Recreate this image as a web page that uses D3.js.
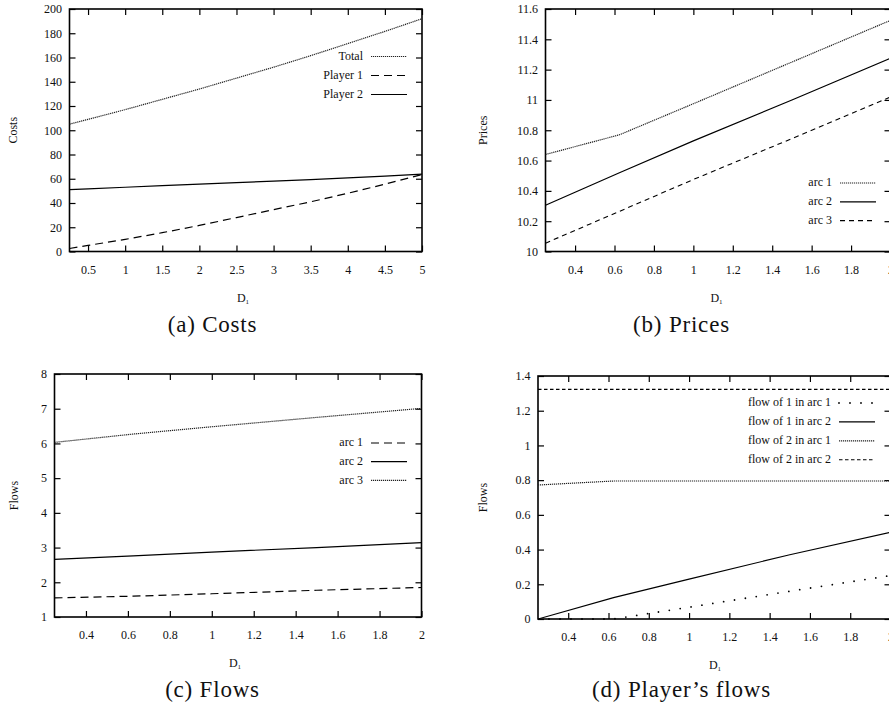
<!DOCTYPE html>
<html>
<head>
<meta charset="utf-8">
<script src="https://cdn.jsdelivr.net/npm/d3@7"></script>
<style>
  body { margin: 0; background: #fff; }
  svg text { font-family: "Liberation Serif", "Times New Roman", serif; fill: #111; }
</style>
</head>
<body>
<script>
// (a) Costs
var costX       = [0.25, 0.5, 1, 1.5, 2, 2.5, 3, 3.5, 4, 4.5, 5];
var costTotal   = [105, 109, 117, 125.5, 134, 143, 152, 161.5, 171.5, 181.5, 192];
var costPlayer1 = [2.5, 5, 10, 15.5, 21.5, 28, 34.5, 41, 48, 55.5, 63.5];
var costPlayer2 = [51, 51.7, 53, 54.3, 55.5, 56.8, 58, 59.3, 60.7, 62.2, 63.8];
var costXTicks  = [0.5, 1, 1.5, 2, 2.5, 3, 3.5, 4, 4.5, 5];
var costYTicks  = [0, 20, 40, 60, 80, 100, 120, 140, 160, 180, 200];

// (b) Prices
var priceX    = [0.25, 0.625, 1, 1.5, 2];
var priceArc1 = [10.64, 10.77, 10.975, 11.25, 11.525];
var priceArc2 = [10.305, 10.52, 10.73, 11.0, 11.275];
var priceArc3 = [10.055, 10.265, 10.475, 10.745, 11.02];
var priceYTicks = [10, 10.2, 10.4, 10.6, 10.8, 11, 11.2, 11.4, 11.6];

// (c) Flows
var flowX    = [0.25, 0.625, 1, 1.5, 2];
var flowArc1 = [1.55, 1.6, 1.67, 1.77, 1.85];
var flowArc2 = [2.66, 2.76, 2.87, 3.0, 3.14];
var flowArc3 = [6.03, 6.27, 6.48, 6.75, 7.01];
var flowYTicks = [1, 2, 3, 4, 5, 6, 7, 8];

// (d) Player's flows
var pfX      = [0.25, 0.625, 1, 1.5, 2];
var pf1Arc1  = [0, 0, 0.068, 0.16, 0.25];
var pf1Arc2  = [0, 0.123, 0.23, 0.37, 0.5];
var pf2Arc1  = [0.772, 0.795, 0.795, 0.795, 0.795];
var pf2Arc2  = [1.323, 1.323, 1.323, 1.323, 1.323];
var pfYTicks = [0, 0.2, 0.4, 0.6, 0.8, 1, 1.2, 1.4];

var dXTicks = [0.4, 0.6, 0.8, 1, 1.2, 1.4, 1.6, 1.8, 2];

var W = 889, H = 709;
var svg = d3.select("body").append("svg").attr("width", W).attr("height", H);

var styles = {
  dotted: {dash: "1.2,0.8", width: 1.2, color: "#222", cap: "butt"},
  solid:  {dash: null, width: 1.2, color: "#000", cap: "butt"},
  dashedLong: {dash: "8,5", width: 1.2, color: "#000", cap: "butt"},
  dashed: {dash: "5,4", width: 1.1, color: "#000", cap: "butt"},
  dashedShort: {dash: "3.5,2.5", width: 1.1, color: "#000", cap: "butt"},
  dots:   {dash: "0,11", width: 1.8, color: "#000", cap: "round"}
};

var panels = [
  {box: {l: 69.5, r: 422, t: 9, b: 251.5}, xDom: [0.25, 5], yDom: [0, 200],
   xTicks: costXTicks, yTicks: costYTicks, x: costX, yLabel: "Costs", caption: "(a) Costs",
   yLabelX: 13, xLabelX: 243, capX: 212.5, capY: 332,
   series: [
     {name: "Total", values: costTotal, style: "dotted"},
     {name: "Player 1", values: costPlayer1, style: "dashedLong"},
     {name: "Player 2", values: costPlayer2, style: "solid"}],
   legend: {x: 363, y: 56, dy: 19}},
  {box: {l: 545.5, r: 890.5, t: 9, b: 251.5}, xDom: [0.25, 2], yDom: [10, 11.6],
   xTicks: dXTicks, yTicks: priceYTicks, x: priceX, yLabel: "Prices", caption: "(b) Prices",
   yLabelX: 483, xLabelX: 716.5, capX: 681.5, capY: 332,
   series: [
     {name: "arc 1", values: priceArc1, style: "dotted"},
     {name: "arc 2", values: priceArc2, style: "solid"},
     {name: "arc 3", values: priceArc3, style: "dashed"}],
   legend: {x: 832, y: 182.5, dy: 18.8}},
  {box: {l: 54.5, r: 421.5, t: 374, b: 617}, xDom: [0.25, 2], yDom: [1, 8],
   xTicks: dXTicks, yTicks: flowYTicks, x: flowX, yLabel: "Flows", caption: "(c) Flows",
   yLabelX: 13.5, xLabelX: 235, capX: 212.5, capY: 697,
   series: [
     {name: "arc 1", values: flowArc1, style: "dashedLong"},
     {name: "arc 2", values: flowArc2, style: "solid"},
     {name: "arc 3", values: flowArc3, style: "dotted"}],
   legend: {x: 363, y: 442.5, dy: 18.7}},
  {box: {l: 538, r: 890.5, t: 376, b: 619}, xDom: [0.25, 2], yDom: [0, 1.4],
   xTicks: dXTicks, yTicks: pfYTicks, x: pfX, yLabel: "Flows", caption: "(d) Player\u2019s flows",
   yLabelX: 483, xLabelX: 715, capX: 681.5, capY: 697,
   series: [
     {name: "flow of 1 in arc 1", values: pf1Arc1, style: "dots"},
     {name: "flow of 1 in arc 2", values: pf1Arc2, style: "solid"},
     {name: "flow of 2 in arc 1", values: pf2Arc1, style: "dotted"},
     {name: "flow of 2 in arc 2", values: pf2Arc2, style: "dashedShort"}],
   legend: {x: 831, y: 402.5, dy: 18.9}}
];

function applyStyle(sel, st) {
  sel.attr("fill", "none")
     .attr("stroke", st.color)
     .attr("stroke-width", st.width)
     .attr("stroke-linecap", st.cap);
  if (st.dash) sel.attr("stroke-dasharray", st.dash);
}

panels.forEach(function(p, pi) {
  var b = p.box;
  var x = d3.scaleLinear().domain(p.xDom).range([b.l, b.r]);
  var y = d3.scaleLinear().domain(p.yDom).range([b.b, b.t]);
  var g = svg.append("g");

  var clip = "clip" + pi;
  g.append("clipPath").attr("id", clip).append("rect")
    .attr("x", b.l).attr("y", b.t - 1).attr("width", b.r - b.l).attr("height", b.b - b.t + 2);

  // axes with inward ticks, mirrored on top/right
  var fmt = function(d) { return String(+d.toFixed(2)); };
  var ax = g.append("g").attr("transform", "translate(0," + b.b + ")")
    .call(d3.axisBottom(x).tickValues(p.xTicks).tickFormat(fmt).tickSizeInner(-6).tickSizeOuter(0).tickPadding(13.5));
  var ay = g.append("g").attr("transform", "translate(" + b.l + ",0)")
    .call(d3.axisLeft(y).tickValues(p.yTicks).tickFormat(fmt).tickSizeInner(-6).tickSizeOuter(0).tickPadding(7.5));
  var at = g.append("g").attr("transform", "translate(0," + b.t + ")")
    .call(d3.axisTop(x).tickValues(p.xTicks).tickFormat("").tickSizeInner(-6).tickSizeOuter(0));
  var ar = g.append("g").attr("transform", "translate(" + b.r + ",0)")
    .call(d3.axisRight(y).tickValues(p.yTicks).tickFormat("").tickSizeInner(-6).tickSizeOuter(0));
  [ax, ay, at, ar].forEach(function(a) {
    a.attr("font-family", null);
    a.select(".domain").remove();
    a.selectAll("line").attr("stroke", "#000").attr("stroke-width", 1.2);
    a.selectAll("text").attr("font-size", 12).attr("fill", "#111");
  });

  // border
  g.append("rect").attr("x", b.l).attr("y", b.t)
    .attr("width", b.r - b.l).attr("height", b.b - b.t)
    .attr("fill", "none").attr("stroke", "#000").attr("stroke-width", 1.6);

  // series
  var line = d3.line().x(function(d) { return x(d[0]); }).y(function(d) { return y(d[1]); });
  p.series.forEach(function(s, i) {
    var pts = p.x.map(function(v, k) { return [v, s.values[k]]; });
    var path = g.append("path").attr("d", line(pts)).attr("clip-path", "url(#" + clip + ")");
    applyStyle(path, styles[s.style]);

    // legend entry
    var ly = p.legend.y + i * p.legend.dy;
    g.append("text").attr("x", p.legend.x).attr("y", ly).attr("dy", "0.33em")
      .attr("text-anchor", "end").attr("font-size", 12).text(s.name);
    var ll = g.append("line").attr("x1", p.legend.x + 8).attr("x2", p.legend.x + 44)
      .attr("y1", ly + 0.5).attr("y2", ly + 0.5);
    applyStyle(ll, styles[s.style]);
  });

  // axis labels
  var cy = (b.t + b.b) / 2;
  var xl = g.append("text").attr("x", p.xLabelX).attr("y", b.b + 50)
    .attr("text-anchor", "middle").attr("font-size", 12);
  xl.append("tspan").text("D");
  xl.append("tspan").attr("font-size", 7).attr("dy", 2).text("1");
  g.append("text").attr("transform", "translate(" + (p.yLabelX + 4) + "," + cy + ") rotate(-90)")
    .attr("text-anchor", "middle").attr("font-size", 12).text(p.yLabel);

  // caption
  g.append("text").attr("x", p.capX).attr("y", p.capY)
    .attr("text-anchor", "middle").attr("font-size", 23).attr("letter-spacing", 0.8)
    .text(p.caption);
});
</script>
</body>
</html>
